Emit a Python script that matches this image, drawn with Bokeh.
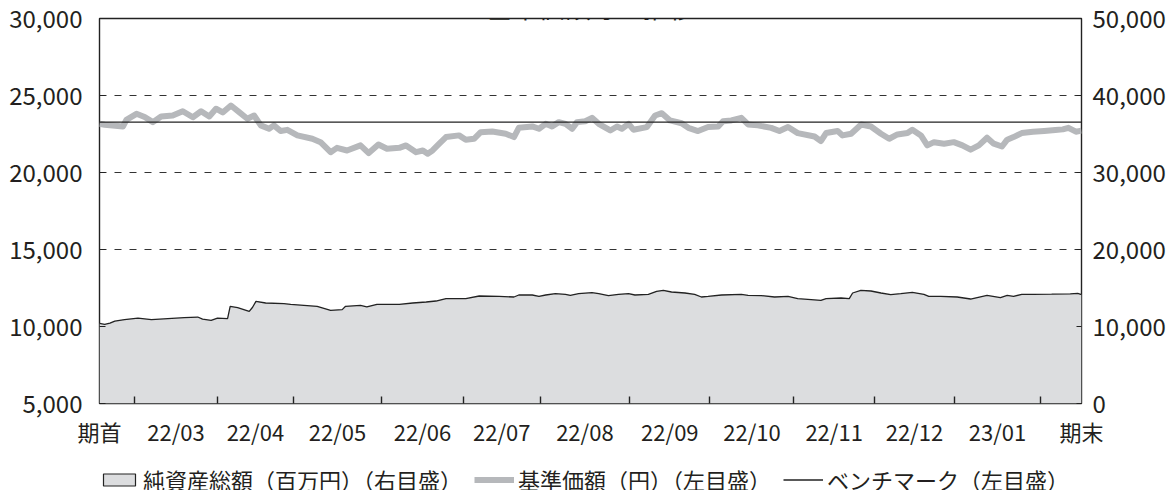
from bokeh.plotting import figure
from bokeh.layouts import column
from bokeh.models import (Range1d, LinearAxis, FixedTicker, SingleIntervalTicker,
                          NumeralTickFormatter, Legend, LegendItem, Label)
from bokeh.embed import file_html
from bokeh.resources import INLINE

# ---------------- data ----------------
title_text = "基準価額等の推移"

# trading-day index of each month start (22/03 ... 23/01 and the last month)
month_bounds = [9.5, 31.5, 52, 75.5, 97.5, 118, 142, 163.5, 186, 207.5, 229, 252]
month_labels = ["22/03", "22/04", "22/05", "22/06", "22/07", "22/08",
                "22/09", "22/10", "22/11", "22/12", "23/01"]
first_label = "期首"
last_label = "期末"
last_day = 263

# 基準価額（円） – left axis
nav_x = [0, 1.4, 6.3, 7.2, 9.9, 12.1, 14.3, 16.5, 19.6, 22.3, 25, 27.2, 29.4, 31.2, 33,
         35.2, 37.4, 39.6, 41.4, 43.2, 45.4, 46.7, 48.5, 50.3, 53, 57, 59.2, 61.9, 63.6,
         66.3, 69.9, 72.1, 74.7, 77, 80.3, 82.1, 84.8, 86.6, 87.9, 89.2, 91, 92.8, 96.3,
         98.1, 100.3, 102.1, 105.2, 108.8, 111, 112.3, 115.9, 117.7, 119.5, 121.2, 123,
         124.8, 126.6, 127.9, 130.1, 131.9, 133.7, 136.8, 138.6, 139.9, 141.7, 143, 146.6,
         148.8, 150.6, 152.8, 155.9, 157.7, 160.3, 163, 165.7, 167, 169.2, 171.9, 173.7,
         176.3, 179.9, 182.1, 184.4, 187, 191.5, 193.2, 194.6, 197.7, 199, 201.3, 204,
         206.6, 209.3, 211.5, 213.7, 216.4, 217.7, 220, 221.7, 223.5, 226.2, 228.8, 231.1,
         233.3, 235.5, 237.7, 239.5, 241.7, 243.1, 244.8, 247, 250, 253, 256, 258, 259.5,
         261.5, 263]
nav_y = [23170, 23100, 22990, 23420, 23810, 23600, 23270, 23640, 23700, 23980, 23590,
         23980, 23640, 24140, 23900, 24350, 23920, 23490, 23700, 23060, 22840, 23060,
         22690, 22770, 22410, 22190, 21970, 21320, 21600, 21430, 21760, 21260, 21820,
         21540, 21600, 21760, 21320, 21430, 21220, 21430, 21870, 22300, 22410, 22130,
         22190, 22620, 22660, 22520, 22300, 22900, 22990, 22840, 23160, 22990, 23270,
         23160, 22840, 23270, 23330, 23550, 23160, 22730, 22990, 22840, 23160, 22780,
         22950, 23700, 23850, 23380, 23200, 22900, 22690, 22950, 22990, 23330, 23380,
         23550, 23120, 23060, 22900, 22690, 22950, 22560, 22340, 22040, 22560, 22690,
         22410, 22520, 23120, 22990, 22520, 22190, 22470, 22560, 22780, 22410, 21760,
         21970, 21870, 21970, 21760, 21480, 21760, 22260, 21870, 21690, 22130, 22300,
         22560, 22640, 22700, 22760, 22800, 22900, 22650, 22720]

# 純資産総額（百万円） – right axis
assets_x = [0, 1.4, 2.8, 4.1, 6.7, 10.3, 13.9, 18.3, 22.7, 26.3, 27.6, 29.9, 31.6, 34.3,
            35, 37, 40.1, 41, 41.9, 44.5, 49.4, 51.2, 58.3, 61.9, 65, 65.9, 69.9, 71.6,
            74.3, 77.9, 80.3, 83.9, 87.5, 90.1, 92.8, 98.1, 101.7, 107, 111, 112.3, 115.9,
            117.7, 119.5, 122.1, 124.8, 126.1, 128.3, 131.9, 133.7, 136.3, 139, 141.7,
            143.4, 147, 149.2, 151, 153.2, 156.8, 159.4, 161.2, 163, 166.6, 171.9, 173.7,
            177.2, 180.8, 184.4, 187, 189.7, 193.2, 194.6, 198.6, 200.8, 201.7, 203.9,
            206.6, 209.3, 211.9, 214.6, 217.7, 220.8, 222.1, 225.3, 229.7, 233.3, 237.7,
            241.3, 243.1, 244.8, 247, 250, 255, 260, 262, 263]
assets_y = [10400, 10290, 10450, 10710, 10900, 11100, 10900, 11020, 11150, 11230, 10950,
            10800, 11100, 11020, 12620, 12450, 11970, 12500, 13270, 13050, 12960, 12880,
            12620, 12100, 12190, 12620, 12750, 12540, 12880, 12880, 12880, 13050, 13180,
            13310, 13620, 13620, 13960, 13910, 13830, 14090, 14090, 13910, 14090, 14270,
            14180, 14050, 14270, 14400, 14270, 14010, 14180, 14270, 14090, 14180, 14570,
            14700, 14480, 14350, 14180, 13830, 13910, 14090, 14180, 14050, 14010, 13830,
            13910, 13620, 13530, 13400, 13620, 13700, 13620, 14350, 14700, 14610, 14350,
            14130, 14270, 14440, 14180, 13910, 13910, 13830, 13570, 14050, 13750, 14050,
            13910, 14180, 14180, 14200, 14250, 14300, 14150]

# ベンチマーク（左目盛） – flat level
bench_x = [0, 263]
bench_y = [23270, 23270]

legend_labels = ["純資産総額（百万円）（右目盛）", "基準価額（円）（左目盛）", "ベンチマーク（左目盛）"]

# ---------------- styles ----------------
FONT = "Noto Sans CJK JP"
TXT = "#231f20"
AREA_FILL = "#dcdddf"
NAV_COLOR = "#b6b8bb"
DARK = "#222222"
W = 1168

p = figure(width=W, height=463,
           x_range=Range1d(0, last_day), y_range=Range1d(5000, 30000),
           output_backend="svg", toolbar_location=None,
           min_border_left=99, min_border_right=83, min_border_top=18, min_border_bottom=60)
p.extra_y_ranges = {"right": Range1d(0, 50000)}
p.background_fill_color = "white"
p.border_fill_color = "white"
p.outline_line_color = DARK
p.outline_line_width = 1.4

# grid
p.xgrid.grid_line_color = None
p.ygrid.grid_line_color = "#333333"
p.ygrid.grid_line_dash = "7 8"
p.ygrid.grid_line_width = 1

# left axis
ly = p.yaxis[0]
ly.ticker = SingleIntervalTicker(interval=5000)
ly.formatter = NumeralTickFormatter(format="0,0")

# right axis
ry = LinearAxis(y_range_name="right", ticker=SingleIntervalTicker(interval=10000),
                formatter=NumeralTickFormatter(format="0,0"))
p.add_layout(ry, "right")

for ax, tin, stand in ((ly, 6, 13), (ry, 5, 7)):
    ax.axis_line_color = None
    ax.major_tick_in = tin
    ax.major_tick_out = 0
    ax.major_tick_line_color = DARK
    ax.major_tick_line_width = 1.2
    ax.minor_tick_line_color = None
    ax.major_label_standoff = stand
    ax.major_label_text_font = FONT
    ax.major_label_text_font_size = "24px"
    ax.major_label_text_color = TXT

# bottom axis: labels centred in each month, ticks at month starts
label_pos = [0] + [(a + b) / 2 for a, b in zip(month_bounds[:-1], month_bounds[1:])] + [last_day]
label_txt = [first_label] + month_labels + [last_label]
xa = p.xaxis[0]
xa.ticker = FixedTicker(ticks=label_pos, minor_ticks=month_bounds)
xa.major_label_overrides = {float(v): t for v, t in zip(label_pos, label_txt)}
xa.axis_line_color = None
xa.major_tick_line_color = None
xa.minor_tick_in = 7
xa.minor_tick_out = 0
xa.minor_tick_line_color = DARK
xa.minor_tick_line_width = 1.4
xa.major_label_standoff = 5
xa.major_label_text_font = FONT
xa.major_label_text_font_size = "22px"
xa.major_label_text_color = TXT

# glyphs
p.varea(x=assets_x, y1=[0] * len(assets_x), y2=assets_y, y_range_name="right",
        fill_color=AREA_FILL)
p.line(assets_x, assets_y, y_range_name="right", line_color=DARK, line_width=1.3)
p.line(nav_x, nav_y, line_color=NAV_COLOR, line_width=6, line_join="round")
p.line(bench_x, bench_y, line_color=DARK, line_width=1.3)

title = Label(x=last_day / 2, y=397, y_units="screen", text=title_text,
              text_align="center", text_baseline="alphabetic",
              text_font=FONT, text_font_size="26px", text_color=TXT)
p.add_layout(title)

# ---------------- legend strip below the chart ----------------
lg = figure(width=W, height=27, output_backend="svg", toolbar_location=None,
            x_range=Range1d(0, 1), y_range=Range1d(0, 1),
            x_axis_location=None, y_axis_location=None,
            min_border_left=99, min_border_right=0, min_border_top=0, min_border_bottom=0)
lg.outline_line_color = None
lg.grid.grid_line_color = None
lg.background_fill_color = "white"
lg.border_fill_color = "white"
# key renderers reuse the series but fall outside this strip's ranges (only their keys show)
key_area = lg.rect(x=assets_x, y=assets_y, width=1, height=1, fill_color=AREA_FILL,
                   line_color=DARK, line_width=1.2)
key_nav = lg.line(nav_x, nav_y, line_color=NAV_COLOR, line_width=6)
key_bench = lg.line(bench_x, bench_y, line_color=DARK, line_width=1.3)
legend = Legend(items=[LegendItem(label=legend_labels[0], renderers=[key_area]),
                       LegendItem(label=legend_labels[1], renderers=[key_nav]),
                       LegendItem(label=legend_labels[2], renderers=[key_bench])],
                location="top_left", orientation="horizontal",
                glyph_width=40, glyph_height=15, label_standoff=4, spacing=12,
                padding=0, margin=0, border_line_color=None, background_fill_alpha=0,
                label_text_font=FONT, label_text_font_size="22px", label_text_color=TXT,
                label_height=20)
lg.add_layout(legend)

page = column(p, lg, spacing=0)
open("out.html", "w").write(file_html(page, INLINE))
